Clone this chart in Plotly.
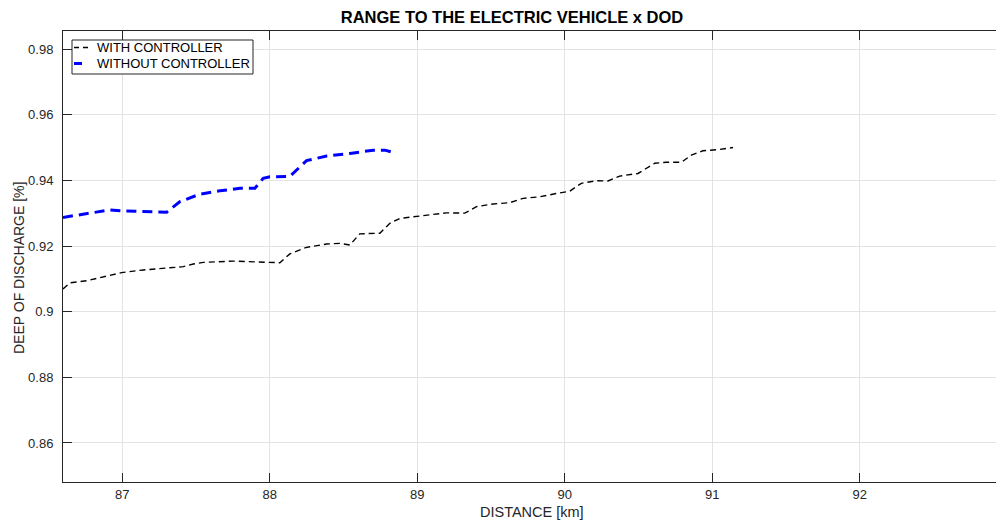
import plotly.graph_objects as go

# ---------------- data ----------------
with_ctrl_x = [86.598, 86.646, 86.759, 86.871, 86.996, 87.142, 87.278, 87.413, 87.481,
               87.549, 87.752, 87.933, 88.068, 88.136, 88.249, 88.385, 88.475, 88.543,
               88.610, 88.746, 88.814, 88.881, 89.017, 89.198, 89.322, 89.401, 89.514,
               89.627, 89.717, 89.830, 89.943, 90.033, 90.112, 90.214, 90.293, 90.372,
               90.496, 90.541, 90.609, 90.688, 90.790, 90.858, 90.936, 91.049, 91.140]
with_ctrl_y = [0.9069, 0.9088, 0.9094, 0.9105, 0.9119, 0.9127, 0.9132, 0.9137, 0.9145,
               0.9150, 0.9154, 0.9151, 0.9149, 0.9176, 0.9196, 0.9206, 0.9208, 0.9203,
               0.9237, 0.9239, 0.9269, 0.9284, 0.9291, 0.9301, 0.9300, 0.9320, 0.9328,
               0.9332, 0.9345, 0.9350, 0.9360, 0.9367, 0.9391, 0.9399, 0.9398, 0.9413,
               0.9421, 0.9433, 0.9452, 0.9455, 0.9455, 0.9477, 0.9490, 0.9494, 0.9500]

without_ctrl_x = [86.598, 86.917, 87.007, 87.165, 87.301, 87.391, 87.526, 87.662, 87.797,
                  87.899, 87.955, 88.001, 88.136, 88.249, 88.385, 88.543, 88.701, 88.780,
                  88.848]
without_ctrl_y = [0.9287, 0.9310, 0.9307, 0.9304, 0.9303, 0.9335, 0.9358, 0.9368, 0.9376,
                  0.9376, 0.9406, 0.9411, 0.9412, 0.9460, 0.9474, 0.9482, 0.9492, 0.9492,
                  0.9484]

x_ticks = [87, 88, 89, 90, 91, 92]
y_ticks = [0.86, 0.88, 0.90, 0.92, 0.94, 0.96, 0.98]
y_tick_text = ["0.86", "0.88", "0.9", "0.92", "0.94", "0.96", "0.98"]

series_names = ["WITH CONTROLLER", "WITHOUT CONTROLLER"]
series_colors = ["#000000", "#0000ff"]

title_text = "RANGE TO THE ELECTRIC VEHICLE x DOD"
x_label = "DISTANCE [km]"
y_label = "DEEP OF DISCHARGE [%]"

# ---------------- figure ----------------
FONT = "Liberation Sans, Arial, Helvetica, sans-serif"
AX = "#262626"
GRID = "#e3e3e3"

W, H = 996, 521
L, R, T, B = 63, 0, 31, 39
plot_w = W - L - R
plot_h = H - T - B


def px_x(p):
    return (p - L) / plot_w


def px_y(p):
    return ((H - B) - p) / plot_h


fig = go.Figure()
fig.add_trace(go.Scatter(
    x=with_ctrl_x, y=with_ctrl_y, mode="lines", name=series_names[0],
    line=dict(color=series_colors[0], width=1.4, dash="6px,4px"),
))
fig.add_trace(go.Scatter(
    x=without_ctrl_x, y=without_ctrl_y, mode="lines", name=series_names[1],
    line=dict(color=series_colors[1], width=3, dash="10px,6px"),
))

# legend drawn as a box with sample lines and text (MATLAB-style compact legend)
shapes = [
    dict(type="rect", xref="paper", yref="paper", x0=px_x(72), x1=px_x(253),
         y0=px_y(40), y1=px_y(74), line=dict(color=AX, width=1), fillcolor="white",
         layer="above"),
    dict(type="line", xref="paper", yref="paper", x0=px_x(74), x1=px_x(91),
         y0=px_y(47.5), y1=px_y(47.5), line=dict(color=series_colors[0], width=1.4,
                                                   dash="5px,4px"), layer="above"),
    dict(type="line", xref="paper", yref="paper", x0=px_x(74), x1=px_x(82),
         y0=px_y(63.5), y1=px_y(63.5), line=dict(color=series_colors[1], width=3),
         layer="above"),
]
legend_ann = [
    dict(text=series_names[0], xref="paper", yref="paper", x=px_x(95), y=px_y(47.5),
         xanchor="left", yanchor="middle", showarrow=False,
         font=dict(family=FONT, size=13, color="#000000")),
    dict(text=series_names[1], xref="paper", yref="paper", x=px_x(95), y=px_y(63.5),
         xanchor="left", yanchor="middle", showarrow=False,
         font=dict(family=FONT, size=13, color="#000000")),
]

fig.update_layout(
    width=W, height=H,
    margin=dict(l=L, r=R, t=T, b=B, pad=0),
    paper_bgcolor="white", plot_bgcolor="white",
    font=dict(family=FONT, color=AX, size=13),
    title=dict(text="<b>" + title_text + "</b>", x=512 / W, xanchor="center",
               xref="container", y=1 - 17 / H, yanchor="middle", yref="container",
               font=dict(family=FONT, size=16.5, color="#000000")),
    showlegend=False,
    xaxis=dict(range=[86.598, 92.923], tickvals=x_ticks, ticks="inside", ticklen=9,
               tickcolor=AX, tickwidth=1, showline=True, linecolor=AX, linewidth=1,
               mirror="ticks", showgrid=True, gridcolor=GRID, gridwidth=1, zeroline=False,
               tickfont=dict(family=FONT, size=13, color=AX)),
    yaxis=dict(range=[0.8481, 0.9855], tickvals=y_ticks, ticktext=y_tick_text,
               ticks="inside", ticklen=9, tickcolor=AX, tickwidth=1, showline=True,
               linecolor=AX, linewidth=1, mirror=False, showgrid=True, gridcolor=GRID,
               gridwidth=1, zeroline=False, ticklabelstandoff=6,
               tickfont=dict(family=FONT, size=13, color=AX)),
    shapes=shapes,
    annotations=[
        dict(text=x_label, xref="paper", yref="paper", x=px_x(532),
             y=px_y(512), xanchor="center", yanchor="middle",
             showarrow=False, font=dict(family=FONT, size=14.5, color=AX)),
        dict(text=y_label, xref="paper", yref="paper", x=px_x(19),
             y=px_y(268), xanchor="center", yanchor="middle",
             textangle=-90, showarrow=False, font=dict(family=FONT, size=14, color=AX)),
    ] + legend_ann,
)

fig.write_html("out.html")
